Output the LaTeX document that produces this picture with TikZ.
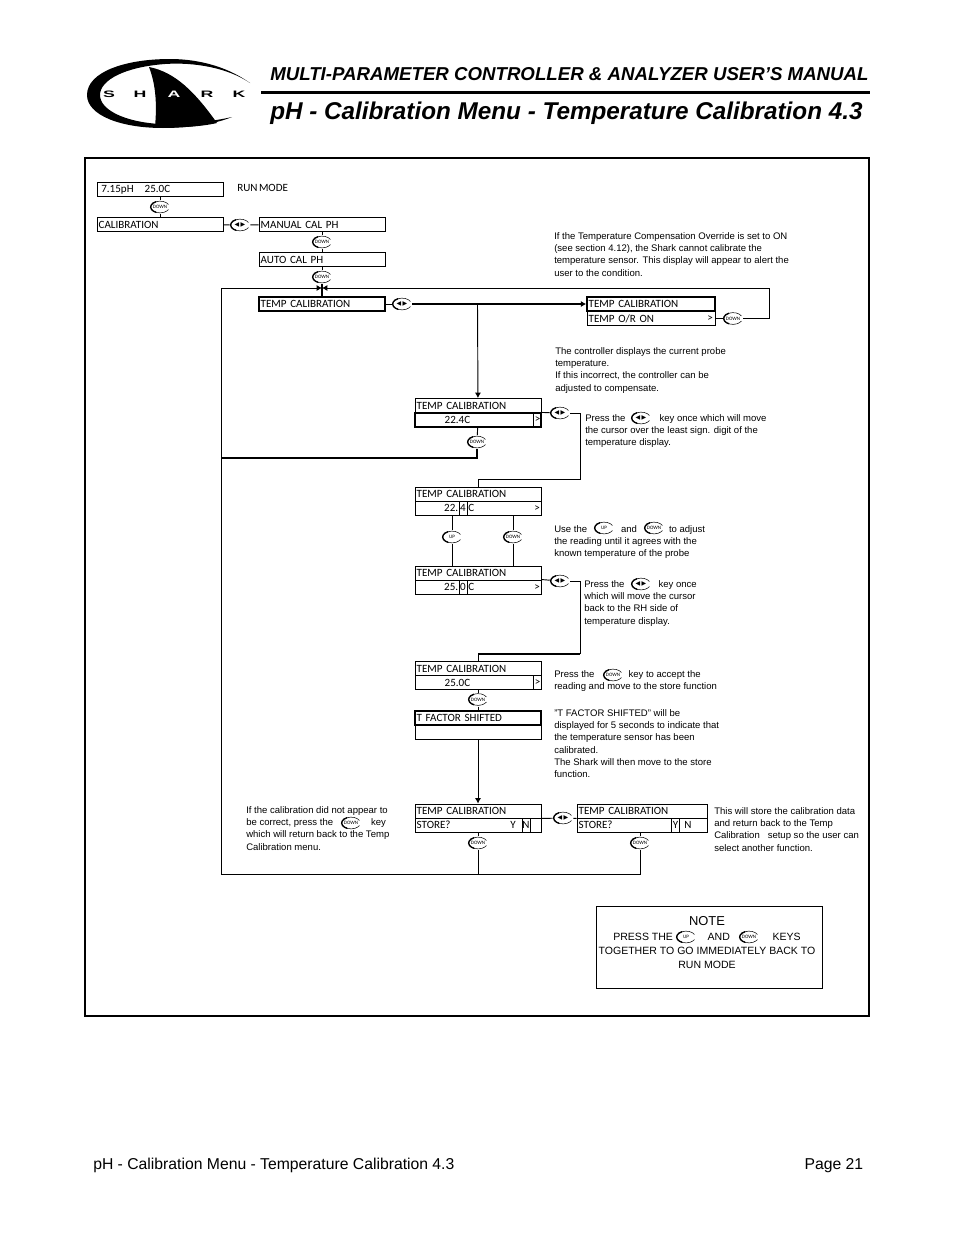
\documentclass[tikz,border=0pt]{standalone}
\usepackage{fontspec}
\setmainfont{Liberation Sans}
\newfontfamily\lcdfont[WordSpace=0.6]{Carlito}
\newfontfamily\symfont{DejaVu Sans}
\usetikzlibrary{positioning,shapes.geometric,arrows.meta}
\newcommand{\lrmark}{{\symfont\fontsize{4.5}{5}\selectfont ◀\hspace{1pt}▶}}
\tikzset{
  key/.style={shape=ellipse,fill=white,inner sep=0pt,outer sep=0pt,minimum width=15.5pt,minimum height=10.5pt,font=\lcdfont\fontsize{3.8}{4}\selectfont,
    path picture={
      \draw[line width=0.4pt] (path picture bounding box.center) ++(25:7pt and 4.4pt) arc[start angle=25,end angle=335,x radius=7pt,y radius=4.4pt];
      \draw[line width=1pt] (path picture bounding box.center) ++(115:7pt and 4.4pt) arc[start angle=115,end angle=245,x radius=7pt,y radius=4.4pt];
    }},
  keyD/.style={key},
  keyU/.style={key},
  keyLR/.style={key},
  lcd/.style={draw=black,line width=0.7pt,minimum width=94.5pt,minimum height=10.5pt,inner sep=0pt,inner xsep=1.2pt,text width=92pt,align=left,font=\lcdfont\fontsize{8.3}{10}\selectfont},
  lcdT/.style={lcd,line width=1.1pt},
  cell/.style={draw=black,line width=0.7pt,minimum width=6pt,minimum height=10.5pt,inner sep=0pt,font=\lcdfont\fontsize{8.3}{10}\selectfont},
  plain/.style={inner sep=0pt,font=\lcdfont\fontsize{8.3}{10}\selectfont},
  wire/.style={line width=0.7pt},
  wireT/.style={line width=1.5pt},
  tip/.style={-{Latex[length=4pt,width=4.5pt]}},
  remark/.style={anchor=north west,inner sep=0pt,align=left,font=\fontsize{7.15}{9.25}\selectfont},
  notetxt/.style={inner sep=0pt,font=\fontsize{7.9}{10}\selectfont},
  brand/.style={inner sep=0pt,font=\bfseries\fontsize{7}{7}\selectfont,xscale=1.9,transform shape},
}
\begin{document}
\begin{tikzpicture}[x=0.75pt,y=-0.75pt]
\useasboundingbox (0,0) rectangle (954,1235);

% logo
\fill[black] (250,83) .. controls (225,65) and (195,59) .. (170,59) .. controls (125,59) and (87,72) .. (87,95) .. controls (87,115) and (120,128) .. (163,128) .. controls (190,128) and (215,124) .. (232,117) .. controls (210,122) and (180,125) .. (160,124) .. controls (125,122) and (100,110) .. (100,95) .. controls (100,80) and (125,67) .. (165,64) .. controls (195,62) and (228,68) .. (250,83) -- cycle;
\fill[black] (149,67) .. controls (175,72) and (195,92) .. (217,123) .. controls (200,127) and (175,128) .. (155,127) .. controls (157,105) and (156,85) .. (149,67) -- cycle;
\node[brand] (brandS) at (109,94) {S};
\node[brand] (brandH) at (140,94) {H};
\node[brand,text=white] (brandA) at (174,94) {A};
\node[brand] (brandR) at (207,94) {R};
\node[brand] (brandK) at (239,94) {K};

% header and footer
\node[anchor=base west,inner sep=0pt,font=\bfseries\itshape\fontsize{14}{18}\selectfont] (head1) at (270,80) {MULTI-PARAMETER CONTROLLER \& ANALYZER USER’S MANUAL};
\draw[line width=2.3pt] (261,92.5) -- (870,92.5);
\node[anchor=base west,inner sep=0pt,font=\bfseries\itshape\fontsize{18.2}{22}\selectfont] (head2) at (270,119) {pH - Calibration Menu - Temperature Calibration 4.3};
\node[anchor=base west,inner sep=0pt,font=\fontsize{11.8}{13}\selectfont] (foot1) at (93,1169) {pH - Calibration Menu - Temperature Calibration 4.3};
\node[anchor=base east,inner sep=0pt,font=\fontsize{11.8}{13}\selectfont] (foot2) at (863.5,1169) {Page 21};

% frame
\draw[line width=1.5pt] (85,158) rectangle (869,1016);

% menu column
\node[lcd,text width=88pt,inner xsep=3.2pt] (run) at (160,189.5) {7.15pH\ \ \ 25.0C};
\node[plain,anchor=west] (runlab) at (237,188) {RUN MODE};
\node[keyD] (kA) at (160,207) {DOWN};
\node[lcd] (cal) at (160,224.5) {CALIBRATION};
\node[keyLR] (kB) at (240,225) {\lrmark};
\node[lcd] (manual) at (322,224.5) {MANUAL CAL PH};
\node[keyD] (kC) at (322,242) {DOWN};
\node[lcd] (auto) at (322,259.5) {AUTO CAL PH};
\node[keyD] (kE) at (322,277) {DOWN};
\node[lcdT] (temp) at (322,304) {TEMP CALIBRATION};
\node[keyLR] (kF) at (402,304) {\lrmark};
\coordinate (mrg) at (322,288);
\coordinate (loopL) at (221,288);
\coordinate (loopR) at (769.5,288);
\coordinate (botL) at (221,874);
\coordinate (midL) at (221,458);
\coordinate (branch) at (477.5,304);

\draw[wire] (run) -- (kA);
\draw[wire] (kA) -- (cal);
\draw[wire] (cal) -- (kB);
\draw[wire] (kB) -- (manual);
\draw[wire] (manual) -- (kC);
\draw[wire] (kC) -- (auto);
\draw[wire] (auto) -- (kE);
\draw[wireT] (kE) -- (temp);
\draw[wire] (temp) -- (kF);

% temperature override display
\node[lcdT,minimum width=96pt,text width=93.5pt] (orA) at (651,304) {TEMP CALIBRATION};
\node[lcd,minimum width=96pt,text width=93.5pt] (orB) at (651,318.5) {TEMP O/R ON};
\node[plain] (orC) at (710,318.5) {>};
\node[keyD] (kG) at (733,318.5) {DOWN};
\draw[wireT,tip] (kF) -- (orA);
\draw[wire] (orB) -- (kG);
\draw[wire,tip] (kG) -| (loopR) -- (mrg);
\draw[wire,tip] (botL) -- (loopL) -- (mrg);

% reading 22.4C
\node[lcd] (rdA) at (478,405.5) {TEMP CALIBRATION};
\node[lcd,line width=0.85pt] (rdB) at (478,420) {\hspace{21pt}22.4C};
\node[cell] (rdC) at (537.5,420) {>};
\node[keyD] (kH) at (477,442) {DOWN};
\node[keyLR] (kI) at (560,413) {\lrmark};
\draw[wire,tip] (branch) -- (rdA);
\draw[wire] (rdB) -- (kH);
\draw[wireT] (kH) |- (midL);
\draw[wire] (rdB.north east) -- (kI);

% cursor on the last digit
\node[lcd] (adjA) at (478,494) {TEMP CALIBRATION};
\node[lcd] (adjB) at (478,508) {};
\node[plain,anchor=east] (adjD) at (458.5,508) {22.};
\node[cell] (adjC) at (463,508) {4};
\node[plain,anchor=west] (adjE) at (468,508) {C};
\node[plain] (adjF) at (537,508.5) {>};
\coordinate (stepA) at (580,413);
\coordinate (stepB) at (478,479);
\draw[wire] (kI) -- (stepA) |- (stepB) -- (adjA);

\node[keyU] (kJ) at (452,537) {UP};
\node[keyD] (kK) at (513,537) {DOWN};

% reading 25.0C
\node[lcd] (setA) at (478,573) {TEMP CALIBRATION};
\node[lcd] (setB) at (478,587) {};
\node[plain,anchor=east] (setD) at (458.5,587) {25.};
\node[cell] (setC) at (463,587) {0};
\node[plain,anchor=west] (setE) at (468,587) {C};
\node[plain] (setF) at (537,587.5) {>};
\node[keyLR] (kL) at (560,581) {\lrmark};
\draw[wire] (kJ.north) -- (kJ.north |- adjB.south);
\draw[wire] (kJ.south) -- (kJ.south |- setA.north);
\draw[wire] (kK.north) -- (kK.north |- adjB.south);
\draw[wire] (kK.south) -- (kK.south |- setA.north);
\draw[wire] (setB.north east) -- (kL);

% accepted reading
\node[lcd] (okA) at (478,668.5) {TEMP CALIBRATION};
\node[lcd] (okB) at (478,682.5) {\hspace{21pt}25.0C};
\node[cell,line width=1pt] (okC) at (537.5,682.5) {>};
\coordinate (stepC) at (580,581);
\coordinate (stepD) at (478,654);
\draw[wire] (kL) -- (stepC);
\draw[wire] (stepC) -- (stepC |- stepD);
\draw[wireT] (stepC |- stepD) -- (stepD);
\draw[wire] (stepD) -- (okA);
\node[keyD] (kM) at (478,699.5) {DOWN};
\node[lcdT,line width=0.9pt] (sfA) at (478,718) {T FACTOR SHIFTED};
\node[lcd] (sfB) at (478,732) {};
\draw[wire] (okB) -- (kM);
\draw[wire] (kM) -- (sfA);

% store
\node[lcd] (stA) at (478,811) {TEMP CALIBRATION};
\node[lcd] (stB) at (478,825) {STORE?};
\node[plain] (stY) at (513,825) {Y};
\node[cell] (stN) at (526,825) {N};
\node[keyLR] (kN) at (563,818) {\lrmark};
\node[lcd,minimum width=97.5pt,text width=95pt] (syA) at (642,811) {TEMP CALIBRATION};
\node[lcd,minimum width=97.5pt,text width=95pt] (syB) at (642,825) {STORE?};
\node[cell] (syY) at (675.5,825) {Y};
\node[plain] (syN) at (688,825) {N};
\node[keyD] (kO) at (478,843) {DOWN};
\node[keyD] (kP) at (640,843) {DOWN};
\coordinate (botM) at (478,874);
\coordinate (botR) at (640,874);
\draw[wire,tip] (sfB) -- (stA);
\draw[wire] (stA.south east) -- (kN);
\draw[wire] (kN) -- (syA.south west);
\draw[wire] (stB) -- (kO);
\draw[wire] (kO) -- (botM);
\draw[wire] (kP.north) -- (kP.north |- syB.south);
\draw[wire] (kP) -- (botR) -- (botL);

% remarks
\node[remark] (tx1) at (554,232) {If the Temperature Compensation Override is set to ON\\(see section 4.12), the Shark cannot calibrate the\\temperature sensor. This display will appear to alert the\\user to the condition.};
\node[remark] (tx2) at (555,347) {The controller displays the current probe\\temperature.\\If this incorrect, the controller can be\\adjusted to compensate.};
\node[remark] (tx3) at (585,414) {Press the\hspace{25.5pt}key once which will move\\the cursor over the least sign. digit of the\\temperature display.};
\node[keyLR] (kQ) at (641,418) {\lrmark};
\node[remark] (tx4) at (554,525) {Use the\hspace{25.5pt}and\hspace{24pt}to adjust\\the reading until it agrees with the\\known temperature of the probe};
\node[keyU] (kR) at (604,528) {UP};
\node[keyD] (kS) at (654,528) {DOWN};
\node[remark] (tx5) at (584,580) {Press the\hspace{25.5pt}key once\\which will move the cursor\\back to the RH side of\\temperature display.};
\node[keyLR] (kT) at (641,584) {\lrmark};
\node[remark] (tx6) at (554,670) {Press the\hspace{25.5pt}key to accept the\\reading and move to the store function};
\node[keyD] (kU) at (613,675) {DOWN};
\node[remark] (tx7) at (554,709) {"T FACTOR SHIFTED" will be\\displayed for 5 seconds to indicate that\\the temperature sensor has been\\calibrated.\\The Shark will then move to the store\\function.};
\node[remark] (tx8) at (246,806) {If the calibration did not appear to\\be correct, press the\hspace{28.5pt}key\\which will return back to the Temp\\Calibration menu.};
\node[keyD] (kV) at (351,823) {DOWN};
\node[remark] (tx9) at (714,807) {This will store the calibration data\\and return back to the Temp\\Calibration\ \ \ setup so the user can\\select another function.};

% note box
\node[draw=black,line width=0.7pt,minimum width=169.5pt,minimum height=61.5pt,inner sep=0pt] (notebox) at (709,947) {};
\node[notetxt,font=\fontsize{9.7}{12}\selectfont] (note1) at (707,921) {NOTE};
\node[notetxt] (note2) at (707,937) {PRESS THE\hspace{26pt}AND\hspace{32pt}KEYS};
\node[notetxt] (note3) at (707,951) {TOGETHER TO GO IMMEDIATELY BACK TO};
\node[notetxt] (note4) at (707,965) {RUN MODE};
\node[keyU] (kW) at (686,937) {UP};
\node[keyD] (kX) at (749,937) {DOWN};
\end{tikzpicture}
\end{document}
